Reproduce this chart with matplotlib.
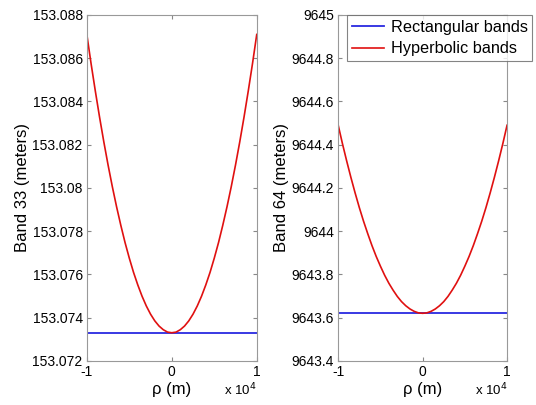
import matplotlib
matplotlib.use("Agg")
import matplotlib.pyplot as plt

plt.rcParams['font.family'] = ['Liberation Sans', 'DejaVu Sans']

# rho (m), cada 500 m
rho = list(range(-10000, 10001, 500))

# banda 33, mitad derecha (rho = 0 .. 10000)
hyp33_mitad = [153.0733, 153.07333, 153.07344, 153.07361, 153.07385, 153.07416,
               153.07454, 153.07499, 153.07551, 153.07609, 153.07675, 153.07747,
               153.07827, 153.07913, 153.08006, 153.08106, 153.08213, 153.08327,
               153.08448, 153.08575, 153.0871]
hyp33 = hyp33_mitad[::-1] + hyp33_mitad[1:]
rect33 = [153.0733] * len(rho)

# banda 64, mitad derecha
hyp64_mitad = [9643.620, 9643.622, 9643.629, 9643.640, 9643.655, 9643.674,
               9643.698, 9643.727, 9643.759, 9643.796, 9643.838, 9643.883,
               9643.933, 9643.988, 9644.046, 9644.109, 9644.177, 9644.249,
               9644.325, 9644.405, 9644.490]
hyp64 = hyp64_mitad[::-1] + hyp64_mitad[1:]
rect64 = [9643.62] * len(rho)

yticks33 = [153.072, 153.074, 153.076, 153.078, 153.08, 153.082, 153.084, 153.086, 153.088]
ylabels33 = ['153.072', '153.074', '153.076', '153.078', '153.08', '153.082',
             '153.084', '153.086', '153.088']
yticks64 = [9643.4, 9643.6, 9643.8, 9644, 9644.2, 9644.4, 9644.6, 9644.8, 9645]
ylabels64 = ['9643.4', '9643.6', '9643.8', '9644', '9644.2', '9644.4',
             '9644.6', '9644.8', '9645']
xticks = [-10000, 0, 10000]
xlabels = ['-1', '0', '1']

fig = plt.figure(figsize=(5.36, 4.05), dpi=100)
ax1 = fig.add_axes([0.162, 0.109, 0.317, 0.854])
ax2 = fig.add_axes([0.631, 0.109, 0.315, 0.854])


def estilo(ax, yt, yl, ylabel):
    ax.set_xlim(-10000, 10000)
    ax.set_xticks(xticks)
    ax.set_xticklabels(xlabels)
    ax.set_yticks(yt)
    ax.set_yticklabels(yl)
    ax.set_ylim(yt[0], yt[-1])
    ax.tick_params(direction='in', top=True, right=True, labelsize=10,
                   length=3, color='#888888', pad=3)
    for s in ax.spines.values():
        s.set_color('#999999')
    ax.set_xlabel('ρ (m)', fontsize=12, labelpad=2)
    ax.set_ylabel(ylabel, fontsize=12, labelpad=2)
    ax.text(1.0, -0.083, 'x 10$^4$', transform=ax.transAxes, fontsize=9.5,
            ha='right', va='center')


ax1.plot(rho, rect33, color='#2a2ae0', lw=1.3)
ax1.plot(rho, hyp33, color='#e01010', lw=1.2)
estilo(ax1, yticks33, ylabels33, 'Band 33 (meters)')

ax2.plot(rho, rect64, color='#2a2ae0', lw=1.3, label='Rectangular bands')
ax2.plot(rho, hyp64, color='#e01010', lw=1.2, label='Hyperbolic bands')
estilo(ax2, yticks64, ylabels64, 'Band 64 (meters)')

leg = ax2.legend(loc='upper left', bbox_to_anchor=(0.05, 1.0), borderaxespad=0,
                 fontsize=11.7, frameon=True, fancybox=False, handlelength=2.0,
                 borderpad=0.3, labelspacing=0.4, handletextpad=0.4)
leg.get_frame().set_edgecolor('#666666')
leg.get_frame().set_linewidth(0.8)

fig.savefig('out.png', dpi=100)
